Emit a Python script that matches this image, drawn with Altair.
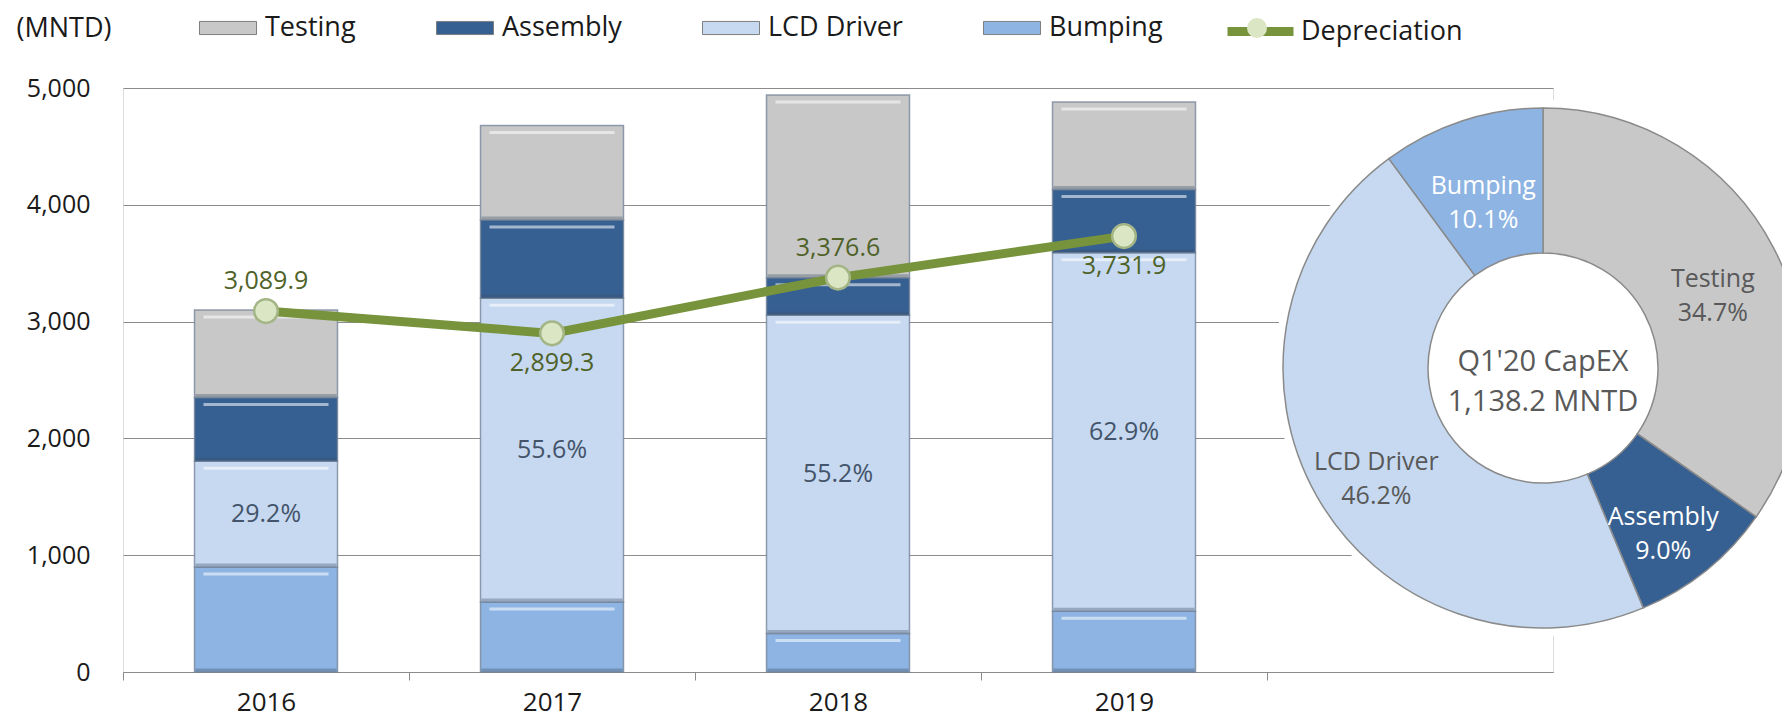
import math
import altair as alt
import pandas as pd

# ---------------- data ----------------
years = ["2016", "2017", "2018", "2019"]
extra_slot = "Q1'20"
segments = ["Testing", "Assembly", "LCD Driver", "Bumping"]
seg_colors = ["#c8c8c8", "#376092", "#c6d9f1", "#8db4e2"]

bumping = [900, 600, 330, 520]
lcd_driver = [905, 2600, 2725, 3070]
assembly = [545, 670, 320, 540]
testing = [750, 810, 1565, 750]
lcd_share = ["29.2%", "55.6%", "55.2%", "62.9%"]

depreciation = [3089.9, 2899.3, 3376.6, 3731.9]
dep_labels = ["3,089.9", "2,899.3", "3,376.6", "3,731.9"]

pie_segments = ["Testing", "Assembly", "LCD Driver", "Bumping"]
pie_share = [34.7, 9.0, 46.2, 10.1]
pie_labels = ["Testing\n34.7%", "Assembly\n9.0%", "LCD Driver\n46.2%", "Bumping\n10.1%"]
pie_center = ["Q1'20 CapEX\n1,138.2 MNTD"]

y_ticks = [0, 1000, 2000, 3000, 4000, 5000]

# ---------------- tables ----------------
stack_order = ["Bumping", "LCD Driver", "Assembly", "Testing"]
series = {"Bumping": bumping, "LCD Driver": lcd_driver,
          "Assembly": assembly, "Testing": testing}
rows = []
for i, yr in enumerate(years):
    base = 0
    for k, seg in enumerate(stack_order):
        v = series[seg][i]
        rows.append(dict(year=yr, segment=seg, value=v, order=k,
                         bottom=base, top=base + v))
        base += v
bar_df = pd.DataFrame(rows)

pct_df = pd.DataFrame({
    "year": years,
    "mid": [b + l / 2 for b, l in zip(bumping, lcd_driver)],
    "label": lcd_share,
})

dep_df = pd.DataFrame({
    "year": years,
    "dep": depreciation,
    "label": dep_labels,
    "series": ["Depreciation"] * len(years),
    "marker": ["dep_marker"] * len(years),
})

pie_df = pd.DataFrame({
    "segment": pie_segments,
    "share": pie_share,
    "label": pie_labels,
    "porder": list(range(len(pie_segments))),
})
center_df = pd.DataFrame({"text": pie_center})

# ---------------- layout constants ----------------
W, H = 1430, 584
STEP = W / 5
CX, CY = 1420, 280
R_OUT, R_IN = 260, 115
FONT = "Open Sans"
TXT = "#1a1a1a"

xscale = alt.Scale(domain=years + [extra_slot], paddingInner=0.5, paddingOuter=0.25)
yscale = alt.Scale(domain=[0, 5000], nice=False)
cscale = alt.Scale(domain=segments, range=seg_colors)

xaxis = alt.Axis(
    title=None,
    labelExpr="datum.value == \"Q1'20\" ? '' : datum.label",
    labelAngle=0, labelAlign="center", labelBaseline="top",
    tickOffset=-STEP / 2, labelOffset=STEP / 2,
    domainColor="#8c8c8c", tickColor="#8c8c8c", tickSize=8,
    labelFontSize=26, labelColor=TXT, labelPadding=9,
    labelFont=FONT,
)
yaxis = alt.Axis(
    title="(MNTD)", titleAngle=0, titleX=-107, titleY=-60,
    titleAlign="left", titleBaseline="middle", titleFontSize=27,
    titleFontWeight="normal", titleColor=TXT, titleFont=FONT,
    values=y_ticks, labelExpr="format(datum.value, ',')",
    domain=False, ticks=False, tickSize=0,
    labelPadding=33, labelFontSize=25, labelColor=TXT, labelFont=FONT,
    grid=True, gridColor="#8c8c8c", gridWidth=1,
)

color_legend = alt.Legend(
    orient="none", legendX=76, legendY=-89, direction="horizontal",
    title=None, symbolType="M-1,-0.23L1,-0.23L1,0.23L-1,0.23Z",
    symbolSize=3249, symbolStrokeColor="#7f7f7f", symbolStrokeWidth=1,
    labelFontSize=27, labelColor=TXT, labelOffset=8, labelLimit=0,
    columnPadding=78, padding=0, labelFont=FONT,
)
line_legend = alt.Legend(
    orient="none", legendX=1100, legendY=-94, direction="horizontal",
    title=None, symbolType="stroke", symbolSize=4356, symbolStrokeWidth=9,
    labelFontSize=27, labelColor=TXT, labelOffset=3, labelLimit=0, padding=0,
    labelFont=FONT, zindex=1,
)
circle_legend = alt.Legend(
    orient="none", legendX=1123, legendY=-71, direction="horizontal",
    title=None, symbolType="circle", symbolSize=400,
    symbolFillColor="#dbe6c4", symbolStrokeColor="#a3b585",
    symbolStrokeWidth=2, labelExpr="''", labelFontSize=10, padding=0,
    zindex=2,
)

X = alt.X("year:N", scale=xscale, axis=xaxis)

bars = alt.Chart(bar_df).mark_bar(
    stroke="#6f7f94", strokeWidth=1.5, strokeOpacity=0.75
).encode(
    x=X,
    y=alt.Y("value:Q", stack="zero", scale=yscale, axis=yaxis),
    color=alt.Color("segment:N", scale=cscale, legend=color_legend),
    order=alt.Order("order:Q"),
)

highlights = alt.Chart(bar_df).mark_tick(
    color="white", opacity=0.55, thickness=3, size=125, yOffset=7
).encode(x=X, y=alt.Y("top:Q", scale=yscale))

shadows = alt.Chart(bar_df).mark_tick(
    color="#3d4d63", opacity=0.35, thickness=3, size=141, yOffset=-2
).encode(x=X, y=alt.Y("bottom:Q", scale=yscale))

pct_text = alt.Chart(pct_df).mark_text(
    fontSize=25, color="#44546a", font=FONT, baseline="middle"
).encode(x=X, y=alt.Y("mid:Q", scale=yscale), text="label:N")

line = alt.Chart(dep_df).mark_line(strokeWidth=9).encode(
    x=X, y=alt.Y("dep:Q", scale=yscale),
    stroke=alt.Stroke("series:N", scale=alt.Scale(domain=["Depreciation"], range=["#77933c"]),
                      legend=line_legend),
)
points = alt.Chart(dep_df).mark_point(
    filled=True, fill="#dbe6c4", stroke="#a3b585", strokeWidth=2.5, size=560, opacity=1
).encode(
    x=X, y=alt.Y("dep:Q", scale=yscale),
    shape=alt.Shape("marker:N", scale=alt.Scale(domain=["dep_marker"], range=["circle"]),
                    legend=circle_legend),
)
dep_above = alt.Chart(dep_df).transform_filter(
    "datum.year == '2016' || datum.year == '2018'"
).mark_text(fontSize=25, color="#4f6228", font=FONT, dy=-30, baseline="middle").encode(
    x=X, y=alt.Y("dep:Q", scale=yscale), text="label:N")
dep_below = alt.Chart(dep_df).transform_filter(
    "datum.year == '2017' || datum.year == '2019'"
).mark_text(fontSize=25, color="#4f6228", font=FONT, dy=30, baseline="middle").encode(
    x=X, y=alt.Y("dep:Q", scale=yscale), text="label:N")

disk = alt.Chart(center_df).mark_arc(
    theta=0, theta2=2 * math.pi, outerRadius=R_OUT + 8, innerRadius=0, color="white"
).encode(x=alt.value(CX), y=alt.value(CY))

pie_base = alt.Chart(pie_df).encode(
    theta=alt.Theta("share:Q", stack=True),
    order=alt.Order("porder:Q"),
    x=alt.value(CX), y=alt.value(CY),
)
donut = pie_base.mark_arc(
    innerRadius=R_IN, outerRadius=R_OUT, stroke="#8a8a8a", strokeWidth=1.5
).encode(color=alt.Color("segment:N", scale=cscale, legend=color_legend))
donut_text = pie_base.mark_text(
    radius=(R_IN + R_OUT) / 2 + 4, fontSize=25, font=FONT, lineBreak="\n", lineHeight=34
).encode(
    text="label:N",
    detail="segment:N",
    color=alt.condition("datum.segment == 'Assembly' || datum.segment == 'Bumping'",
                        alt.value("white"), alt.value("#595959")),
)
center_text = alt.Chart(center_df).mark_text(
    fontSize=29, font=FONT, color="#595959", lineBreak="\n", lineHeight=40
).encode(x=alt.value(CX), y=alt.value(CY - 6), text="text:N")

chart = alt.layer(
    bars, highlights, shadows, pct_text, line, points, dep_above, dep_below,
    disk, donut, donut_text, center_text,
).resolve_scale(theta="independent").properties(
    width=W, height=H,
    padding={"left": 115, "top": 80, "right": 229, "bottom": 46},
    autosize=alt.AutoSizeParams(type="none"),
    background="white",
).configure_view(strokeWidth=0).configure(font=FONT)

chart.save("out.html", embed_options={"renderer": "svg", "actions": False})
